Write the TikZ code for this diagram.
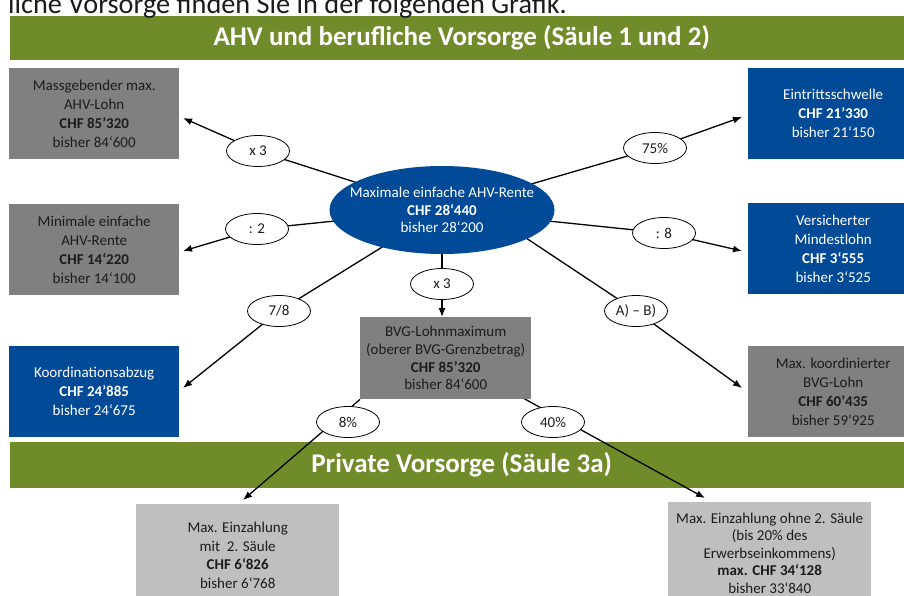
\documentclass[tikz,border=0pt]{standalone}
\usepackage{fontspec}
\setmainfont{Carlito}
\usetikzlibrary{shapes.geometric,arrows.meta}
\definecolor{bandgreen}{RGB}{112,140,42}
\definecolor{boxblue}{RGB}{0,74,152}
\definecolor{boxgray}{RGB}{128,128,128}
\definecolor{boxlight}{RGB}{191,191,191}
\definecolor{darktext}{RGB}{28,28,28}
\pgfdeclarelayer{bandlayer}
\pgfdeclarelayer{connlayer}
\pgfsetlayers{bandlayer,connlayer,main}
\begin{document}
\begin{tikzpicture}[x=1pt,y=-1pt,
  sidebox/.style={rectangle, inner sep=0pt, align=center, anchor=north west,
    minimum width=170pt, minimum height=91pt, font=\fontsize{15}{19}\selectfont},
  graybox/.style={sidebox, fill=boxgray, text=darktext},
  bluebox/.style={sidebox, fill=boxblue, text=white},
  lightbox/.style={rectangle, inner sep=0pt, align=center, anchor=north west,
    minimum width=203pt, minimum height=102pt, fill=boxlight, text=darktext},
  band/.style={rectangle, inner sep=0pt, anchor=north west, fill=bandgreen,
    minimum width=903pt, text=white, font=\fontsize{27}{30}\selectfont\bfseries},
  lbl/.style={ellipse, draw=black, line width=0.8pt, fill=white, inner sep=0pt,
    minimum width=63pt, minimum height=31pt, text=darktext, font=\fontsize{15}{17}\selectfont},
  conn/.style={line width=1.3pt, draw=black},
  arr/.style={conn, -{Latex[length=9pt,width=7pt]}}
]
\useasboundingbox (0,0) rectangle (904,595);
\clip (0,0) rectangle (904,595);

% top cut-off text
\node[anchor=base west, inner sep=0pt, text=darktext, font=\fontsize{28.3}{30}\selectfont]
  (intro) at (8,13) {liche Vorsorge finden Sie in der folgenden Grafik.};

% bands
\begin{pgfonlayer}{bandlayer}
\node[band, minimum height=44pt] (band1) at (10,16) {AHV und berufliche Vorsorge (Säule 1 und 2)};
\node[band, minimum height=46pt] (band2) at (10,442) {Private Vorsorge (Säule 3a)};
\end{pgfonlayer}

% central ellipse
\node[ellipse, fill=boxblue, inner sep=0pt, minimum width=225pt, minimum height=88pt,
  label={[align=center, text=white, font=\fontsize{15}{17.5}\selectfont]center:Maximale einfache AHV-Rente\\\textbf{CHF 28‘440}\\bisher 28‘200}]
  (c) at (442,210) {};

% left boxes
\node[graybox] (tl) at (9,68) {Massgebender max.\\AHV-Lohn\\\textbf{CHF 85’320}\\bisher 84‘600};
\node[graybox] (ml) at (9,204) {Minimale einfache\\AHV-Rente\\\textbf{CHF 14‘220}\\bisher 14‘100};
\node[bluebox] (bl) at (9,346) {Koordinationsabzug\\\textbf{CHF 24’885}\\bisher 24‘675};

% right boxes
\node[bluebox] (tr) at (748,68) {Eintrittsschwelle\\\textbf{CHF 21’330}\\bisher 21‘150};
\node[bluebox] (mr) at (748,203) {Versicherter\\Mindestlohn\\\textbf{CHF 3‘555}\\bisher 3‘525};
\node[graybox] (br) at (748,346) {Max. koordinierter\\BVG-Lohn\\\textbf{CHF 60’435}\\bisher 59‘925};

% BVG box
\node[rectangle, inner sep=0pt, align=center, anchor=north west, fill=boxgray, text=darktext,
  minimum width=171pt, minimum height=82pt, font=\fontsize{15}{17.7}\selectfont]
  (bvg) at (360,317) {BVG-Lohnmaximum\\(oberer BVG-Grenzbetrag)\\\textbf{CHF 85’320}\\bisher 84‘600};

% bottom boxes
\node[lightbox, font=\fontsize{15}{18.7}\selectfont] (bl3) at (136,504)
  {Max. Einzahlung\\mit\ \ 2. Säule\\\textbf{CHF 6‘826}\\bisher 6‘768};
\node[lightbox, font=\fontsize{15}{17.6}\selectfont] (br3) at (668,502)
  {Max. Einzahlung ohne 2. Säule\\(bis 20\% des\\Erwerbseinkommens)\\\textbf{max. CHF 34‘128}\\bisher 33‘840};

% operation labels
\node[lbl] (la) at (258,151) {x 3};
\node[lbl] (lb) at (257,229) {: 2};
\node[lbl] (lc) at (279,311) {7/8};
\node[lbl] (ld) at (655,148) {75\%};
\node[lbl] (le) at (664,233) {: 8};
\node[lbl] (lf) at (636,311) {A) – B)};
\node[lbl] (lg) at (442,284) {x 3};
\node[lbl] (l8) at (348,422) {8\%};
\node[lbl] (l40) at (553,422) {40\%};

% connector end points
\coordinate (tipa) at (183,118);
\coordinate (tipb) at (183,251);
\coordinate (tipc) at (183,388);
\coordinate (tipd) at (742,117);
\coordinate (tipe) at (742,251);
\coordinate (tipf) at (742,388);
\coordinate (tipg) at (442,317);
\coordinate (tip8) at (243,500);
\coordinate (tip40) at (705,498);
\coordinate (sf) at (520,234);
\coordinate (s40) at (523,398);

\begin{pgfonlayer}{connlayer}
  \draw[conn] (c.center) -- (la.center);
  \draw[arr] (la.center) -- (tipa);
  \draw[conn] (c.center) -- (lb.center);
  \draw[arr] (lb.center) -- (tipb);
  \draw[conn] (c.center) -- (lc.center);
  \draw[arr] (lc.center) -- (tipc);
  \draw[conn] (c.center) -- (ld.center);
  \draw[arr] (ld.center) -- (tipd);
  \draw[conn] (c.center) -- (le.center);
  \draw[arr] (le.center) -- (tipe);
  \draw[conn] (sf) -- (lf.center);
  \draw[arr] (lf.center) -- (tipf);
  \draw[conn] (c.center) -- (lg.center);
  \draw[arr] (lg.center) -- (tipg);
  \draw[arr] (bvg.south west) -- (tip8);
  \draw[arr] (s40) -- (tip40);
\end{pgfonlayer}
\end{tikzpicture}
\end{document}
